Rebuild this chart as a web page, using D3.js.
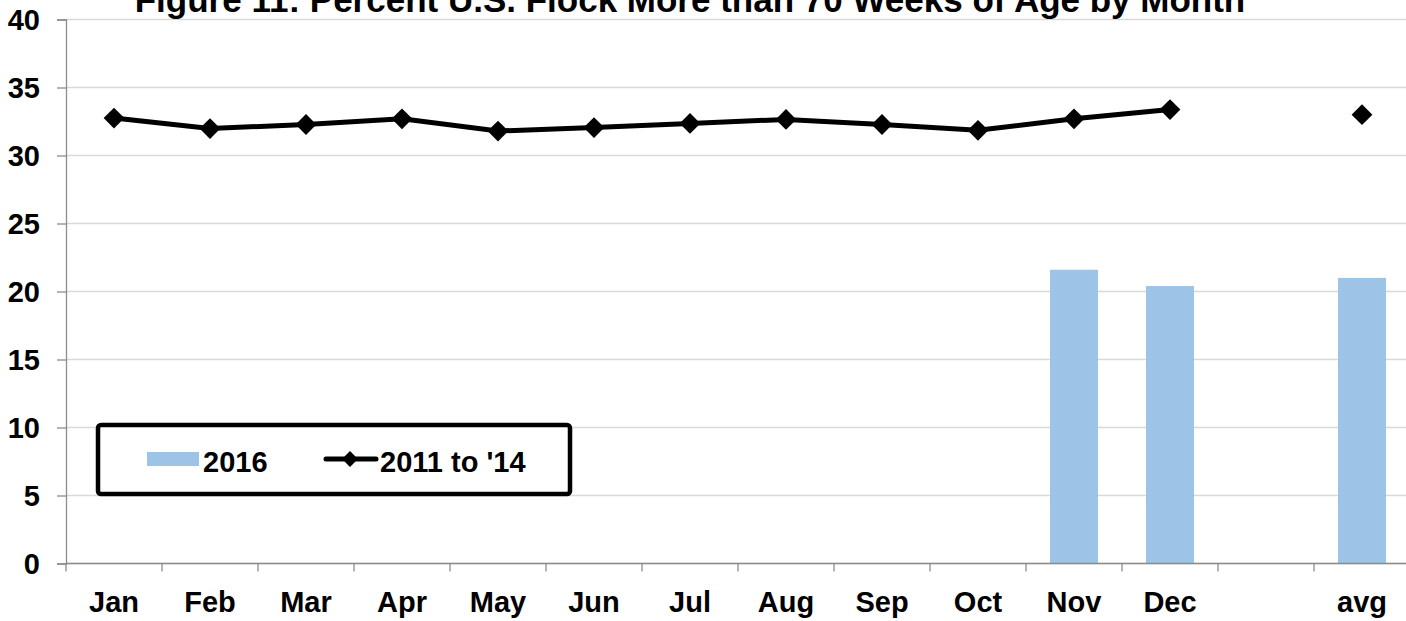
<!DOCTYPE html>
<html>
    <head>
        <meta charset="utf-8">
        <script src="https://d3js.org/d3.v7.min.js"></script>
        <style>
            body { margin: 0; background: #fff; }
            text { font-family: "Liberation Sans", Arial, sans-serif; font-weight: bold; fill: #000; }
        </style>
    </head>
    <body>

        <script>
            var categories = ['Jan', 'Feb', 'Mar', 'Apr', 'May', 'Jun', 'Jul', 'Aug', 'Sep', 'Oct', 'Nov', 'Dec', '', 'avg'];
            var values2016 = [null, null, null, null, null, null, null, null, null, null, 21.6, 20.4, null, 21.0];
            var values1114 = [32.75, 31.98, 32.28, 32.7, 31.8, 32.05, 32.36, 32.65, 32.28, 31.85, 32.7, 33.38, null, 33.0];
            var yTicks = [0, 5, 10, 15, 20, 25, 30, 35, 40];
            var title = 'Figure 11: Percent U.S. Flock More than 70 Weeks of Age by Month';

            var width = 1406, height = 621;
            var margin = { top: 19.5, left: 66, bottom: 57.5 };

            var svg = d3.select('body')
                        .append('svg')
                        .attr('width', width)
                        .attr('height', height);

            var x = d3.scaleBand()
                        .domain(d3.range(categories.length))
                        .range([margin.left, margin.left + 96 * categories.length])
                        .paddingInner(0.5)
                        .paddingOuter(0.25);

            var xb = d3.scaleBand()
                        .domain(d3.range(categories.length))
                        .range([margin.left, margin.left + 96 * categories.length]);

            var y = d3.scaleLinear()
                        .domain([0, 40])
                        .range([height - margin.bottom, margin.top]);

            // gridlines
            svg.append('g')
                .selectAll('line')
                .data(yTicks)
                .enter().append('line')
                    .attr('x1', margin.left)
                    .attr('x2', width)
                    .attr('y1', function(d) { return y(d); })
                    .attr('y2', function(d) { return y(d); })
                    .style('stroke', '#d9d9d9')
                    .style('stroke-width', 1.5);

            // y axis
            var yAxis = svg.append('g')
                .attr('transform', 'translate(' + margin.left + ',0)')
                .call(d3.axisLeft(y).tickValues(yTicks).tickSize(9).tickPadding(17));
            yAxis.select('.domain').style('stroke', '#8c8c8c').style('stroke-width', 1.3);
            yAxis.selectAll('.tick line').style('stroke', '#8c8c8c').style('stroke-width', 1.3);
            yAxis.selectAll('text').style('font-size', '29px').attr('dy', '0.36em');

            // bars
            svg.append('g')
                .selectAll('rect')
                .data(values2016.map(function(v, i) { return { i: i, v: v }; }).filter(function(d) { return d.v !== null; }))
                .enter().append('rect')
                    .attr('x', function(d) { return x(d.i); })
                    .attr('width', x.bandwidth())
                    .attr('y', function(d) { return y(d.v); })
                    .attr('height', function(d) { return y(0) - y(d.v); })
                    .style('fill', '#9dc3e6');

            // x axis
            var xAxis = svg.append('g')
                .attr('transform', 'translate(0,' + y(0) + ')');
            xAxis.append('line')
                .attr('x1', margin.left).attr('x2', width)
                .style('stroke', '#8c8c8c').style('stroke-width', 1.3);
            xAxis.selectAll('.tk')
                .data(d3.range(categories.length + 1))
                .enter().append('line')
                    .attr('x1', function(d) { return margin.left + d * xb.bandwidth(); })
                    .attr('x2', function(d) { return margin.left + d * xb.bandwidth(); })
                    .attr('y1', 0).attr('y2', 8)
                    .style('stroke', '#8c8c8c').style('stroke-width', 1.3);
            xAxis.selectAll('text')
                .data(categories)
                .enter().append('text')
                    .attr('x', function(d, i) { return xb(i) + xb.bandwidth() / 2; })
                    .attr('y', 48)
                    .attr('text-anchor', 'middle')
                    .style('font-size', '29px')
                    .text(function(d) { return d; });

            // line
            var pts = values1114.map(function(v, i) { return { i: i, v: v }; });
            var line = d3.line()
                .defined(function(d) { return d.v !== null; })
                .x(function(d) { return xb(d.i) + xb.bandwidth() / 2; })
                .y(function(d) { return y(d.v); });

            svg.append('path')
                .datum(pts)
                .attr('d', line)
                .style('fill', 'none')
                .style('stroke', '#000')
                .style('stroke-width', 5);

            var diamond = d3.symbol().type(d3.symbolDiamond2).size(275);
            svg.append('g')
                .selectAll('path')
                .data(pts.filter(function(d) { return d.v !== null; }))
                .enter().append('path')
                    .attr('d', diamond)
                    .attr('transform', function(d) {
                        return 'translate(' + (xb(d.i) + xb.bandwidth() / 2) + ',' + y(d.v) + ')';
                    })
                    .style('fill', '#000');

            // title (top is clipped in the original too)
            svg.append('text')
                .attr('x', 690)
                .attr('y', 12)
                .attr('text-anchor', 'middle')
                .style('font-size', '35px')
                .text(title);

            // legend
            var legend = svg.append('g').attr('transform', 'translate(98,425)');
            legend.append('rect')
                .attr('width', 472).attr('height', 69)
                .attr('rx', 3)
                .style('fill', '#fff')
                .style('stroke', '#000')
                .style('stroke-width', 4.5);
            legend.append('rect')
                .attr('x', 49).attr('y', 27)
                .attr('width', 52).attr('height', 14)
                .style('fill', '#9dc3e6');
            legend.append('text')
                .attr('x', 105).attr('y', 47)
                .style('font-size', '29px')
                .text('2016');
            legend.append('line')
                .attr('x1', 228).attr('x2', 278)
                .attr('y1', 34).attr('y2', 34)
                .style('stroke', '#000').style('stroke-width', 5)
                .style('stroke-linecap', 'round');
            legend.append('path')
                .attr('d', d3.symbol().type(d3.symbolDiamond2).size(160))
                .attr('transform', 'translate(252,34)')
                .style('fill', '#000');
            legend.append('text')
                .attr('x', 282).attr('y', 47)
                .style('font-size', '29px')
                .text("2011 to '14");
        </script>
    </body>
</html>
